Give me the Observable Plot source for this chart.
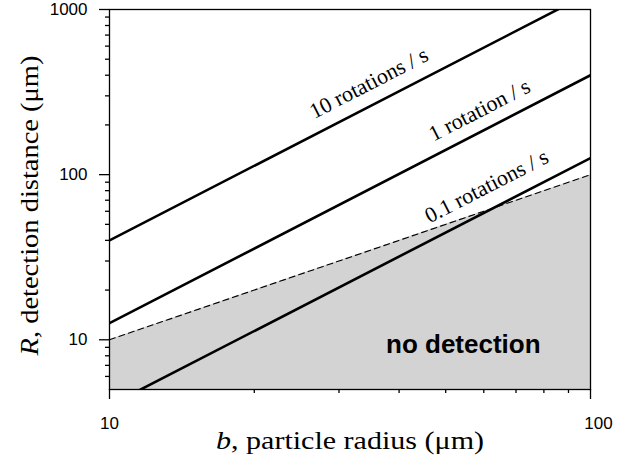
<!DOCTYPE html>
<html>
<head>
<meta charset="utf-8">
<script src="https://cdn.jsdelivr.net/npm/d3@7"></script>
<script src="https://cdn.jsdelivr.net/npm/@observablehq/plot@0.6"></script>
<style>
  html, body { margin: 0; padding: 0; background: #fff; }
  #chart svg { display: block; }
</style>
</head>
<body>
<div id="chart"></div>
<script>
// particle radius b (µm) at the line ends
const bEnds = [10, 100];
// detection distance R (µm) for each rotation rate, at b = 10 and b = 100
const r10rot = [40, 1265];
const r1rot = [12.6, 400];
const r01rot = [4, 126];
// no-detection boundary (dashed)
const rLimit = [10, 100];
// line labels and their positions
const labelText = ["10 rotations / s", "1 rotation / s", "0.1 rotations / s"];
const labelB = [34.6, 58.8, 60.8];
const labelR = [358, 246, 85];
const regionText = ["no detection"];
const regionB = [54.4];
const regionR = [9.4];
// ticks
const xMajor = [10, 100];
const xMinor = [20, 30, 40, 50, 60, 70, 80, 90];
const yMajor = [10, 100, 1000];
const yMinor = [6, 7, 8, 9, 20, 30, 40, 50, 60, 70, 80, 90, 200, 300, 400, 500, 600, 700, 800, 900];
const xLabel = "b, particle radius (μm)";
const yLabel = "R, detection distance (μm)";

const toRows = (xs, ys) => xs.map((x, i) => ({b: x, R: ys[i]}));
const series = [r10rot, r1rot, r01rot].map(r => toRows(bEnds, r));
const limitRows = toRows(bEnds, rLimit);
const labelRows = labelText.map((t, i) => ({t, b: labelB[i], R: labelR[i]}));
const regionRows = regionText.map((t, i) => ({t, b: regionB[i], R: regionR[i]}));

const serif = "'Liberation Serif', 'Times New Roman', serif";
const sans = "'Liberation Sans', Arial, Helvetica, sans-serif";

const chart = Plot.plot({
  width: 629,
  height: 471,
  marginLeft: 109,
  marginRight: 39,
  marginTop: 9,
  marginBottom: 82,
  style: {fontFamily: sans, fontSize: "17px", color: "black", background: "white", overflow: "visible"},
  x: {type: "log", domain: [10, 100]},
  y: {type: "log", domain: [5, 1000]},
  marks: [
    Plot.areaY(limitRows, {x: "b", y1: 5, y2: "R", fill: "#d3d3d3"}),
    Plot.line(limitRows, {x: "b", y: "R", stroke: "black", strokeWidth: 1.1, strokeDasharray: "6,4"}),
    ...series.map(rows => Plot.line(rows, {x: "b", y: "R", stroke: "black", strokeWidth: 2.6, clip: true})),
    Plot.text(labelRows, {x: "b", y: "R", text: "t", rotate: -27.2, fontFamily: serif, fontSize: 22, fill: "black"}),
    Plot.text(regionRows, {x: "b", y: "R", text: "t", fontFamily: sans, fontWeight: "bold", fontSize: 26, fill: "black"}),
    Plot.frame({stroke: "black", strokeWidth: 1.3}),
    Plot.axisY({ticks: yMinor, tickSize: 4, tickFormat: () => "", label: null, strokeWidth: 1.3}),
    Plot.axisY({ticks: yMajor, tickSize: 10, tickPadding: 12, tickFormat: d => String(d), label: null, fontSize: 17, strokeWidth: 1.3}),
    Plot.axisX({ticks: xMinor, tickSize: 4, tickFormat: () => "", label: null, strokeWidth: 1.3}),
    Plot.axisX({ticks: xMajor, tickSize: 10, tickPadding: 17, tickFormat: d => String(d), label: null, fontSize: 17, strokeWidth: 1.3}),
    Plot.text([xLabel], {frameAnchor: "bottom", dy: 59, textAnchor: "middle", text: d => d, fontFamily: serif, fontSize: 26, fill: "black"}),
    Plot.text([yLabel], {frameAnchor: "left", dx: -80, dy: 6, rotate: -90, textAnchor: "middle", text: d => d, fontFamily: serif, fontSize: 26, fill: "black"})
  ]
});

const tickStrings = new Set([...xMajor, ...yMajor].map(String));
d3.select(chart).selectAll("text").each(function() {
  const el = d3.select(this);
  const s = this.textContent;
  if (s === xLabel || s === yLabel) {
    // italicize the variable letter in the axis titles and match their span
    el.text(null);
    el.append("tspan").attr("font-style", "italic").text(s[0]);
    el.append("tspan").text(s.slice(1));
    el.attr("textLength", s === xLabel ? 268 : 300).attr("lengthAdjust", "spacingAndGlyphs");
  } else if (tickStrings.has(s)) {
    el.style("font-size", "17px").style("font-family", sans);
  }
});
// the right-hand "100" tick label sits slightly right of its tick in the original
d3.select(chart).selectAll('g[aria-label="x-axis tick label"] text')
  .filter(function() { return this.textContent === "100"; })
  .attr("dx", 8);

document.getElementById("chart").appendChild(chart);
</script>
</body>
</html>
